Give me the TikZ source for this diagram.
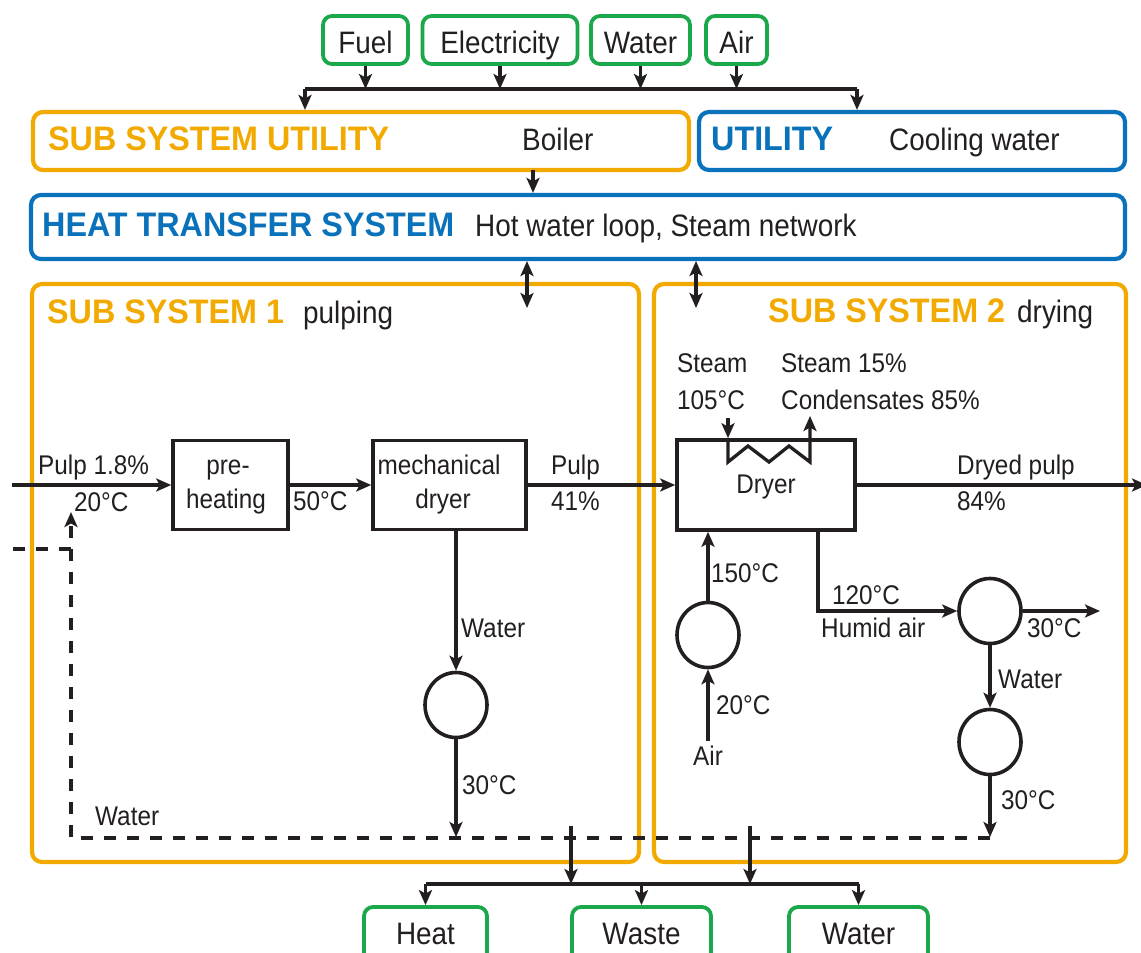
\documentclass[tikz,border=0pt]{standalone}
\usepackage{fontspec}
\setmainfont{Liberation Sans}
\newfontfamily\lblfont{Liberation Sans}[FakeStretch=0.9]
\newfontfamily\hdfont{Liberation Sans}[FakeStretch=0.95]
\usetikzlibrary{arrows.meta,shapes.geometric}

\definecolor{orng}{HTML}{F2AA00}
\definecolor{blu}{HTML}{0A72BA}
\definecolor{grn}{HTML}{1BA84A}
\definecolor{ink}{HTML}{231F20}

\begin{document}
\begin{tikzpicture}[x=1pt,y=-1pt,
  tip/.tip={Stealth[length=15pt,width=13pt,inset=3.5pt]},
  big/.style={font=\lblfont\fontsize{31}{36}\selectfont, text=ink, inner sep=0pt, anchor=base west},
  sml/.style={font=\lblfont\fontsize{27}{32}\selectfont, text=ink, inner sep=0pt, anchor=base west},
  hd/.style={font=\hdfont\bfseries\fontsize{34}{40}\selectfont, inner sep=0pt, anchor=base west},
  obox/.style={draw=orng, line width=4.2pt, rounded corners=10pt, inner sep=0pt},
  bbox/.style={draw=blu, line width=4.2pt, rounded corners=10pt, inner sep=0pt},
  gbox/.style={draw=grn, line width=3.8pt, rounded corners=9pt, inner sep=0pt, minimum height=48pt,
    font=\lblfont\fontsize{31}{36}\selectfont, text=ink, text height=26pt, text depth=0pt},
  gboxlow/.style={gbox, minimum height=56pt, text depth=8pt},
  kbox/.style={draw=ink, line width=3.6pt, inner sep=0pt},
  vessel/.style={draw=ink, line width=3.6pt, ellipse, inner sep=0pt, minimum width=62pt, minimum height=65pt},
  line/.style={draw=ink, line width=3.3pt},
  flow/.style={line, -tip},
  dflow/.style={line, tip-tip},
  dashline/.style={line, dash pattern=on 12pt off 11pt},
]
\useasboundingbox (0,0) rectangle (1141,953);
\clip (0,0) rectangle (1141,953);
\fill[white] (0,0) rectangle (1141,953);

% ---------- resources in ----------
\node[gbox, minimum width=85pt]  (fuel)  at (365.5,40) {Fuel};
\node[gbox, minimum width=155pt] (elec)  at (500,40)   {Electricity};
\node[gbox, minimum width=99pt]  (wtrin) at (640.5,40) {Water};
\node[gbox, minimum width=61pt]  (airin) at (736.5,40) {Air};

\coordinate (busL) at (305,89);
\coordinate (busR) at (857,89);
\draw[line] (busL) -- (busR);
\foreach \n in {fuel,elec,wtrin,airin}
  \draw[flow] (\n) -- (\n |- busL);

% ---------- utilities ----------
\node[obox, minimum width=656pt, minimum height=58pt] (ssu) at (361,141) {};
\node[hd, text=orng] (ssuT) at (48,150) {SUB SYSTEM UTILITY};
\node[big] (ssuB) at (522,150) {Boiler};

\node[bbox, minimum width=426pt, minimum height=58pt] (util) at (912,141) {};
\node[hd, text=blu] (utilT) at (711,150) {UTILITY};
\node[big] (utilC) at (889,150) {Cooling water};

\draw[flow] (busL) -- (busL |- ssu.north);
\draw[flow] (busR) -- (busR |- util.north);

% ---------- heat transfer system ----------
\node[bbox, minimum width=1094pt, minimum height=64pt] (hts) at (578,227) {};
\node[hd, text=blu] (htsT) at (42,236) {HEAT TRANSFER SYSTEM};
\node[big] (htsD) at (475,236) {Hot water loop, Steam network};

\coordinate (boilOut) at (533,170);
\draw[flow] (boilOut) -- (boilOut |- hts.north);

% ---------- sub systems ----------
\node[obox, minimum width=607pt, minimum height=578pt] (ss1) at (335.5,573) {};
\node[hd, text=orng] (ss1T) at (47,323) {SUB SYSTEM 1};
\node[big] (ss1D) at (303,323) {pulping};

\node[obox, minimum width=472pt, minimum height=578pt] (ss2) at (890,573) {};
\node[hd, text=orng] (ss2T) at (768,322) {SUB SYSTEM 2};
\node[big] (ss2D) at (1017,322) {drying};

\coordinate (ex1a) at (527,261);
\coordinate (ex1b) at (527,308);
\coordinate (ex2a) at (696,261);
\coordinate (ex2b) at (696,308);
\draw[dflow] (ex1a) -- (ex1b);
\draw[dflow] (ex2a) -- (ex2b);

% ---------- pulping line ----------
\node[kbox, minimum width=115pt, minimum height=89pt] (pre)   at (230.5,485) {};
\node[kbox, minimum width=153pt, minimum height=89pt] (mech)  at (449.5,485) {};
\node[kbox, minimum width=178pt, minimum height=90pt] (dryer) at (766,485) {};

\node[sml, anchor=base] (preA) at (228,474) {pre-};
\node[sml, anchor=base] (preB) at (226,508) {heating};
\node[sml, anchor=base] (mechA) at (439,474) {mechanical};
\node[sml, anchor=base] (mechB) at (443,508) {dryer};
\node[sml, anchor=base] (dryT) at (766,493) {Dryer};

\coordinate (pin)  at (12,485);
\coordinate (pout) at (1147,485);
\draw[flow] (pin) -- (pre);
\draw[flow] (pre) -- (mech);
\draw[flow] (mech) -- (dryer);
\draw[flow] (dryer) -- (pout);

\node[sml] (l1a) at (38,474)  {Pulp 1.8\%};
\node[sml] (l1b) at (74,511)  {20°C};
\node[sml] (l2)  at (293,510) {50°C};
\node[sml] (l3a) at (551,474) {Pulp};
\node[sml] (l3b) at (551,510) {41\%};
\node[sml] (l4a) at (957,474) {Dryed pulp};
\node[sml] (l4b) at (957,510) {84\%};

% steam coil of the dryer
\node[sml] (stA) at (677,372) {Steam};
\node[sml] (stB) at (677,409) {105°C};
\node[sml] (scA) at (781,372) {Steam 15\%};
\node[sml] (scB) at (781,409) {Condensates 85\%};
\coordinate (stIn) at (728,418);
\draw[flow] (stIn) -- (stIn |- dryer.north);
\draw[line, line join=miter, -tip] (stIn |- dryer.north) -- (728,462) -- (748,446) -- (769,462)
  -- (789,446) -- (810,462) -- (810,416);

% water from the mechanical dryer
\node[vessel] (cm) at (456,705) {};
\coordinate (cmEnd) at (456,837);
\draw[flow] (mech.south -| cm) -- (cm);
\draw[flow] (cm) -- (cmEnd);
\node[sml] (cmW) at (461,637) {Water};
\node[sml] (cmT) at (462,794) {30°C};

% ---------- drying air ----------
\node[vessel] (fan) at (708,635) {};
\coordinate (airSrc) at (708,741);
\draw[flow] (fan) -- (dryer.south -| fan);
\draw[flow] (airSrc) -- (fan);
\node[sml] (faT1) at (711,582) {150°C};
\node[sml] (faT2) at (716,714) {20°C};
\node[sml] (faA)  at (693,765) {Air};

\node[vessel] (c2) at (990,611) {};
\node[vessel] (c3) at (990,742) {};
\coordinate (hBend) at (818,611);
\coordinate (c2out) at (1100,611);
\coordinate (c3end) at (990,837);
\draw[line, -tip] (dryer.south -| hBend) -- (hBend) -- (c2);
\draw[flow] (c2) -- (c2out);
\draw[flow] (c2) -- (c3);
\draw[flow] (c3) -- (c3end);
\node[sml] (haT) at (832,604) {120°C};
\node[sml] (haH) at (821,637) {Humid air};
\node[sml] (c2T) at (1027,637) {30°C};
\node[sml] (c2W) at (998,688) {Water};
\node[sml] (c3T) at (1001,809) {30°C};

% ---------- water return (dashed) ----------
\coordinate (dR) at (990,838);
\coordinate (dL) at (71,838);
\coordinate (dT) at (71,512);
\coordinate (dS) at (13,549);
\draw[dashline, -tip] (dR) -- (dL) -- (dT);
\draw[dashline] (dS) -- (dS -| dL);
\node[sml] (rW) at (95,825) {Water};

% ---------- outputs ----------
\node[gboxlow, minimum width=123pt] (heat)  at (425.5,935) {Heat};
\node[gboxlow, minimum width=139pt] (waste) at (641.5,935) {Waste};
\node[gboxlow, minimum width=139pt] (wout)  at (858.5,935) {Water};

\coordinate (o1) at (571,826);
\coordinate (o2) at (750,826);
\coordinate (bus2) at (0,884);
\draw[flow] (o1) -- (o1 |- bus2);
\draw[flow] (o2) -- (o2 |- bus2);
\draw[line] (heat |- bus2) -- (wout |- bus2);
\draw[flow] (heat |- bus2) -- (heat);
\draw[flow] (waste |- bus2) -- (waste);
\draw[flow] (wout |- bus2) -- (wout);
\end{tikzpicture}
\end{document}
